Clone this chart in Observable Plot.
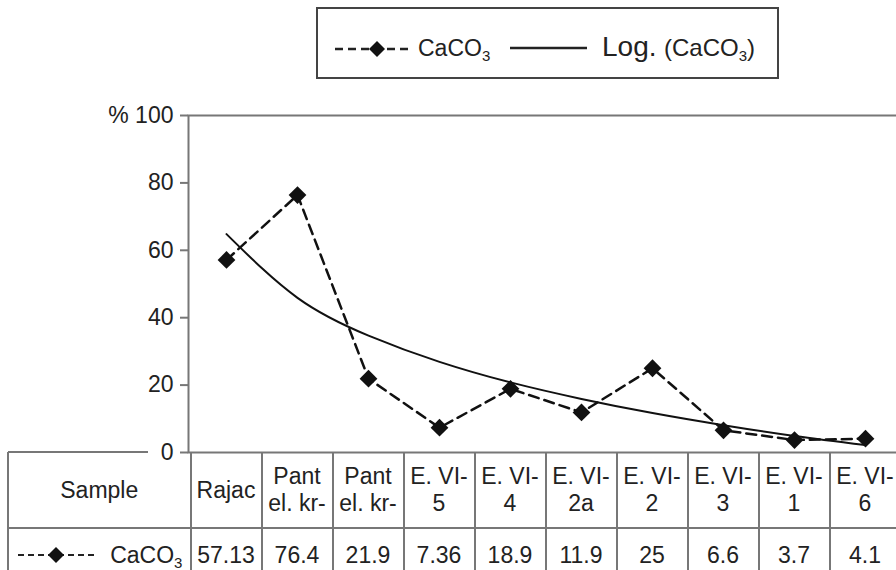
<!DOCTYPE html>
<html>
<head>
<meta charset="utf-8">
<script src="https://cdn.jsdelivr.net/npm/d3@7"></script>
<script src="https://cdn.jsdelivr.net/npm/@observablehq/plot@0.6"></script>
<style>
  body { margin: 0; background: #fff; }
  #wrap { position: relative; width: 896px; height: 570px; overflow: hidden; background: #fff;
          font-family: "Liberation Sans", Arial, sans-serif; color: #222; }
  #legend { position: absolute; left: 0; top: 0; }
  #chart { position: absolute; left: 0; top: 80px; }
  #chart svg g[aria-label="y-axis tick"] { stroke: #777; }
  .line { position: absolute; background: #777; }
  .cell { position: absolute; display: flex; align-items: center; justify-content: center;
          text-align: center; font-size: 23px; line-height: 27px; white-space: pre-line; color: #222; }
  sub { font-size: 15px; line-height: 0; vertical-align: -5px; }
</style>
</head>
<body>
<div id="wrap">
  <svg id="legend" width="896" height="80" font-family="Liberation Sans, Arial, sans-serif" fill="#222">
    <rect x="317" y="8" width="461" height="70" fill="none" stroke="#444" stroke-width="2"></rect>
    <line x1="335" x2="410" y1="49" y2="49" stroke="#222" stroke-width="2.5" stroke-dasharray="8,5"></line>
    <path d="M377,41 L385,49 L377,57 L369,49 Z" fill="#111"></path>
    <text x="418" y="56" font-size="23">CaCO<tspan font-size="15" dy="5">3</tspan></text>
    <line x1="510" x2="587" y1="48" y2="48" stroke="#222" stroke-width="2.5"></line>
    <text x="602" y="56" font-size="28">Log.</text>
    <text x="664" y="56" font-size="24">(CaCO<tspan font-size="15" dy="5">3</tspan><tspan dy="-5">)</tspan></text>
  </svg>
  <div id="chart"></div>
  <div id="table"></div>
</div>
<script>
// ---- data ----
const sampleLabels = ["Rajac", "Pant\nel. kr-", "Pant\nel. kr-", "E. VI-\n5", "E. VI-\n4",
                      "E. VI-\n2a", "E. VI-\n2", "E. VI-\n3", "E. VI-\n1", "E. VI-\n6"];
const caco3 = [57.13, 76.4, 21.9, 7.36, 18.9, 11.9, 25, 6.6, 3.7, 4.1];
// logarithmic trend line values at each sample
const logTrend = [64.8, 45.9, 34.7, 26.9, 20.8, 15.9, 11.7, 8.1, 4.9, 2.2];
const yTicks = [0, 20, 40, 60, 80, 100];
const seriesName = "CaCO";   // subscript 3 added in markup
const rowHeader = "Sample";

const rows = caco3.map((v, i) => ({i, value: v, trend: logTrend[i]}));
const idx = sampleLabels.map((_, i) => i);

const plot = Plot.plot({
  width: 896,
  height: 376,
  marginLeft: 188,
  marginRight: -3,
  marginTop: 35,
  marginBottom: 4,
  style: {fontFamily: "Liberation Sans, Arial, sans-serif", fontSize: "23px", color: "#222", background: "transparent", overflow: "visible"},
  x: {type: "point", domain: idx, range: [188, 903], padding: 0.5, axis: null},
  y: {domain: [0, 100], axis: null},
  marks: [
    Plot.frame({stroke: "#777", strokeWidth: 2}),
    Plot.axisY({ticks: yTicks, tickSize: 8, tickPadding: 7, strokeWidth: 2,
                tickFormat: d => d === 100 ? "% 100" : String(d), label: null}),
    Plot.line(rows, {x: "i", y: "trend", curve: "natural", stroke: "#111", strokeWidth: 2}),
    Plot.line(rows, {x: "i", y: "value", stroke: "#111", strokeWidth: 2.5, strokeDasharray: "10,6"}),
    Plot.dot(rows, {x: "i", y: "value", symbol: "diamond2", r: 8, fill: "#111", stroke: "none"})
  ]
});
document.getElementById("chart").appendChild(plot);

// ---- data table under the chart, columns taken from the plot's x scale ----
const xs = plot.scale("x");
const centers = idx.map(i => xs.apply(i));
const step = centers[1] - centers[0];
const table = document.getElementById("table");
const top0 = 452, rowH = 76, top1 = top0 + rowH, rowH2 = 54;
function line(l, t, w, h) {
  const d = document.createElement("div");
  d.className = "line";
  Object.assign(d.style, {left: l + "px", top: t + "px", width: w + "px", height: h + "px"});
  table.appendChild(d);
}
function cell(l, t, w, h, html) {
  const d = document.createElement("div");
  d.className = "cell";
  Object.assign(d.style, {left: l + "px", top: t + "px", width: w + "px", height: h + "px"});
  d.innerHTML = html;
  table.appendChild(d);
}
const firstLeft = 8, firstRight = centers[0] - step / 2;
// borders
line(firstLeft, top0 - 1, 140, 2);
line(firstLeft, top1 - 1, 896 - firstLeft + 10, 2);
line(firstLeft - 1, top0, 2, 130);
line(firstRight - 1, top0, 2, 130);
centers.forEach((c, i) => { if (i > 0) line(c - step / 2 - 1, top0, 2, 130); });
// header row
cell(firstLeft, top0, firstRight - firstLeft, rowH, rowHeader);
centers.forEach((c, i) => cell(c - step / 2, top0, step, rowH, sampleLabels[i]));
// value row
cell(firstLeft, top1, firstRight - firstLeft, rowH2,
  '<svg width="80" height="20" style="margin-right:14px"><line x1="2" x2="78" y1="10" y2="10" stroke="#222" stroke-width="2" stroke-dasharray="6,4"></line><path d="M40,2 L48,10 L40,18 L32,10 Z" fill="#111"></path></svg><span>' + seriesName + '<sub>3</sub></span>');
centers.forEach((c, i) => cell(c - step / 2, top1, step, rowH2, String(caco3[i])));
</script>
</body>
</html>
